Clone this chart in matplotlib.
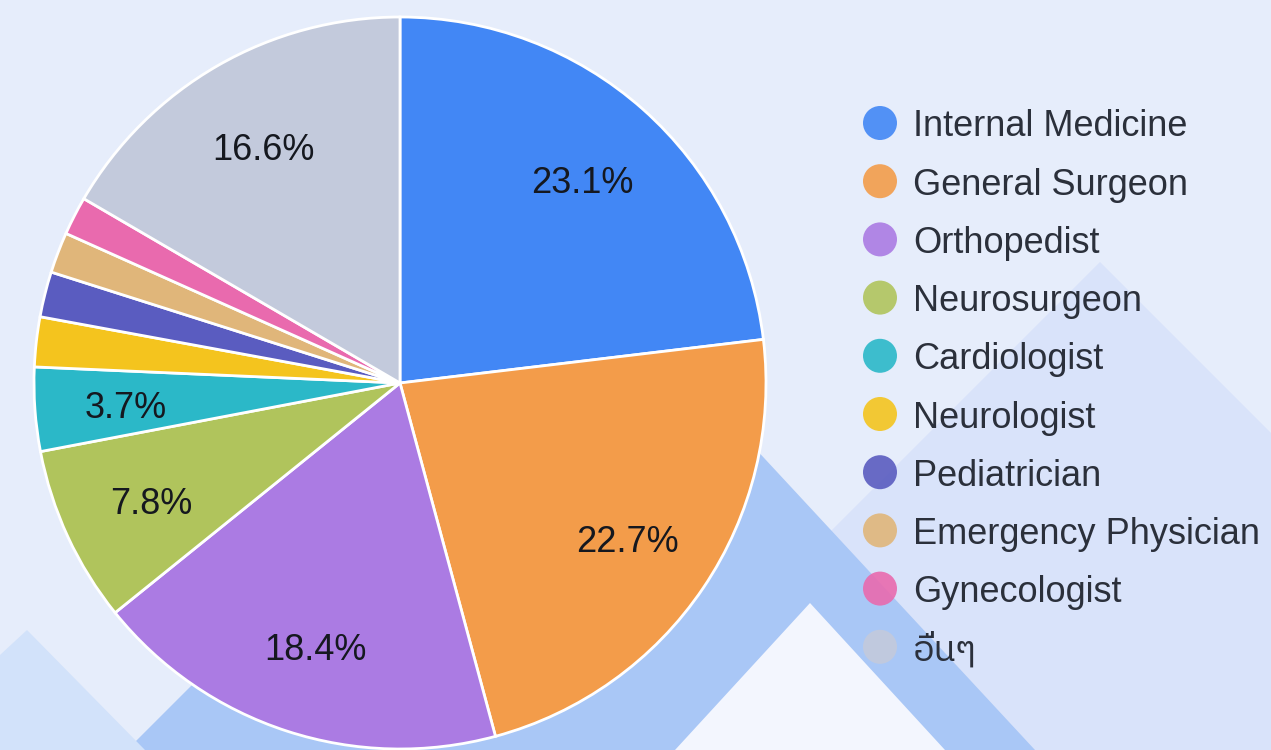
import matplotlib.pyplot as plt
import matplotlib.font_manager as fm
from matplotlib.patches import Polygon, Circle

labels = ["Internal Medicine", "General Surgeon", "Orthopedist", "Neurosurgeon",
          "Cardiologist", "Neurologist", "Pediatrician", "Emergency Physician",
          "Gynecologist", "อื่นๆ"]
shares = [23.1, 22.7, 18.4, 7.8, 3.7, 2.2, 2.0, 1.8, 1.7, 16.6]
colors = ["#4287F5", "#F39C4A", "#AB7BE3", "#B0C45C", "#2BB8C8",
          "#F4C41E", "#5A5CC0", "#E0B67A", "#E96AAE", "#C3CADC"]

# look for any font with Thai glyphs, keep Liberation Sans for latin text
thai = sorted({f.name for f in fm.fontManager.ttflist if "Thai" in f.name})
fams = ["Liberation Sans"] + thai + ["DejaVu Sans"]
plt.rcParams["font.family"] = fams

W, H = 1271, 750
fig = plt.figure(figsize=(W / 100, H / 100), dpi=100)
fig.patch.set_facecolor("#E6EDFB")
ax = fig.add_axes([0, 0, 1, 1])
ax.set_xlim(0, W)
ax.set_ylim(H, 0)
ax.set_aspect("equal")
ax.axis("off")

# background decoration
bg = [
    ([(1100, 262), (1271, 433), (1271, 750), (612, 750)], "#D9E3FA"),
    ([(598, 279), (1035, 750), (127, 750)], "#A9C7F6"),
    ([(810, 603), (945, 750), (675, 750)], "#F3F6FE"),
    ([(27, 630), (145, 750), (0, 750), (0, 655)], "#D2E2FA"),
]
for pts, c in bg:
    ax.add_patch(Polygon(pts, closed=True, color=c, lw=0, zorder=0))

cx, cy, R = 400, 383, 366


def fmt(p):
    return f"{p:.1f}%" if p >= 3 else ""


wedges, _, autotexts = ax.pie(
    shares, colors=colors, startangle=90, counterclock=False,
    center=(cx, cy), radius=R, autopct=fmt, pctdistance=0.75,
    wedgeprops=dict(edgecolor="white", linewidth=2),
    textprops=dict(fontsize=26, color="#15181F"))
# y axis is inverted, so flip the drawing direction back
for w in wedges:
    th1, th2 = w.theta1, w.theta2
    w.set_theta1(-th2)
    w.set_theta2(-th1)
for t in autotexts:
    x, y = t.get_position()
    t.set_position((x, 2 * cy - y + 6))
    t.set_zorder(5)
ax.set_xlim(0, W)
ax.set_ylim(H, 0)

# legend
y0, dy = 123, 58.2
for i, (lab, c) in enumerate(zip(labels, colors)):
    y = y0 + i * dy
    ax.add_patch(Circle((880, y), 17, color=c, alpha=0.9, lw=0, zorder=4))
    ax.text(913, y + 4, lab, fontsize=26, color="#2B303B", va="center",
            ha="left", zorder=5)

fig.savefig("out.png", dpi=100, facecolor=fig.get_facecolor())
